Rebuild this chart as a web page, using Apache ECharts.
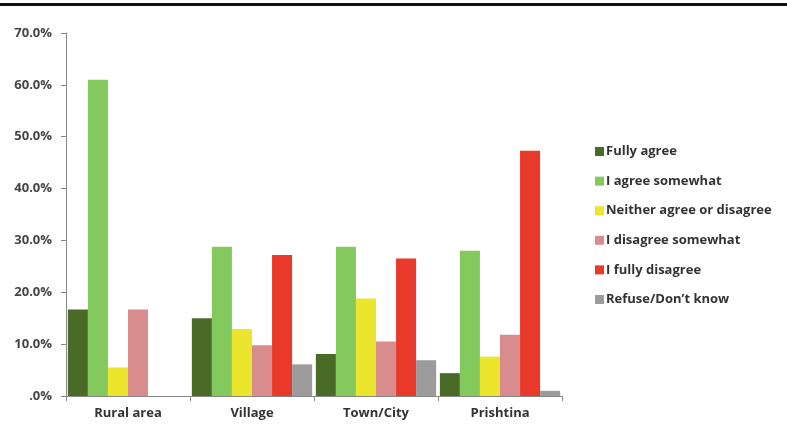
<!DOCTYPE html>
<html>
<head>
<meta charset="utf-8">
<script src="https://cdn.jsdelivr.net/npm/echarts@6/dist/echarts.min.js"></script>
<style>
  html, body { margin: 0; padding: 0; background: #ffffff; }
  #chart { width: 787px; height: 429px; }
</style>
</head>
<body>
<div id="chart"></div>
<script>
// Survey answers by settlement type (percent of respondents)
const categories = ['Rural area', 'Village', 'Town/City', 'Prishtina'];
const seriesNames = [
  'Fully agree',
  'I agree somewhat',
  'Neither agree or disagree',
  'I disagree somewhat',
  'I fully disagree',
  'Refuse/Don\u2019t know'
];
const fullyAgree      = [16.7, 15.0, 8.1, 4.4];
const agreeSomewhat   = [61.0, 28.8, 28.8, 28.0];
const neither         = [5.5, 12.9, 18.8, 7.6];
const disagreeSomewhat= [16.7, 9.8, 10.5, 11.8];
const fullyDisagree   = [0, 27.2, 26.5, 47.3];
const refuse          = [0, 6.1, 6.9, 1.0];
const yTicks = [0, 10, 20, 30, 40, 50, 60, 70];

const values = [fullyAgree, agreeSomewhat, neither, disagreeSomewhat, fullyDisagree, refuse];
const colors = ['#4a6a28', '#84c95e', '#ece52e', '#d98c8e', '#e8392b', '#9b9b9b'];

const font = '"Open Sans", Lato, sans-serif';
const chart = echarts.init(document.getElementById('chart'));

chart.setOption({
  animation: false,
  backgroundColor: '#ffffff',
  grid: { left: 66, right: 225, top: 33, bottom: 33, containLabel: false },
  graphic: [{
    type: 'rect',
    shape: { x: 0, y: 3, width: 787, height: 3 },
    style: { fill: '#111111' }
  }],
  legend: {
    orient: 'vertical',
    left: 590,
    top: 140,
    itemWidth: 9,
    itemHeight: 9,
    itemGap: 16.6,
    icon: 'rect',
    textStyle: { fontFamily: font, fontWeight: 'bold', fontSize: 13, color: '#333333', padding: [0, 0, 0, -3] },
    data: seriesNames
  },
  xAxis: {
    type: 'category',
    data: categories,
    axisLine: { lineStyle: { color: '#888888', width: 1 } },
    axisTick: { show: true, length: 5, lineStyle: { color: '#888888' } },
    axisLabel: { fontFamily: font, fontWeight: 'bold', fontSize: 13, color: '#333333', margin: 11 }
  },
  yAxis: {
    type: 'value',
    min: yTicks[0],
    max: yTicks[yTicks.length - 1],
    interval: 10,
    splitLine: { show: false },
    axisLine: { show: true, lineStyle: { color: '#888888', width: 1 } },
    axisTick: { show: true, length: 5, lineStyle: { color: '#888888' } },
    axisLabel: {
      fontFamily: font, fontWeight: 'bold', fontSize: 13, color: '#444444', margin: 14,
      formatter: v => v === 0 ? '.0%' : v.toFixed(1) + '%'
    }
  },
  series: seriesNames.map((name, i) => ({
    name,
    type: 'bar',
    data: values[i],
    barGap: '0%',
    barCategoryGap: '3%',
    itemStyle: { color: colors[i] }
  }))
});
</script>
</body>
</html>
